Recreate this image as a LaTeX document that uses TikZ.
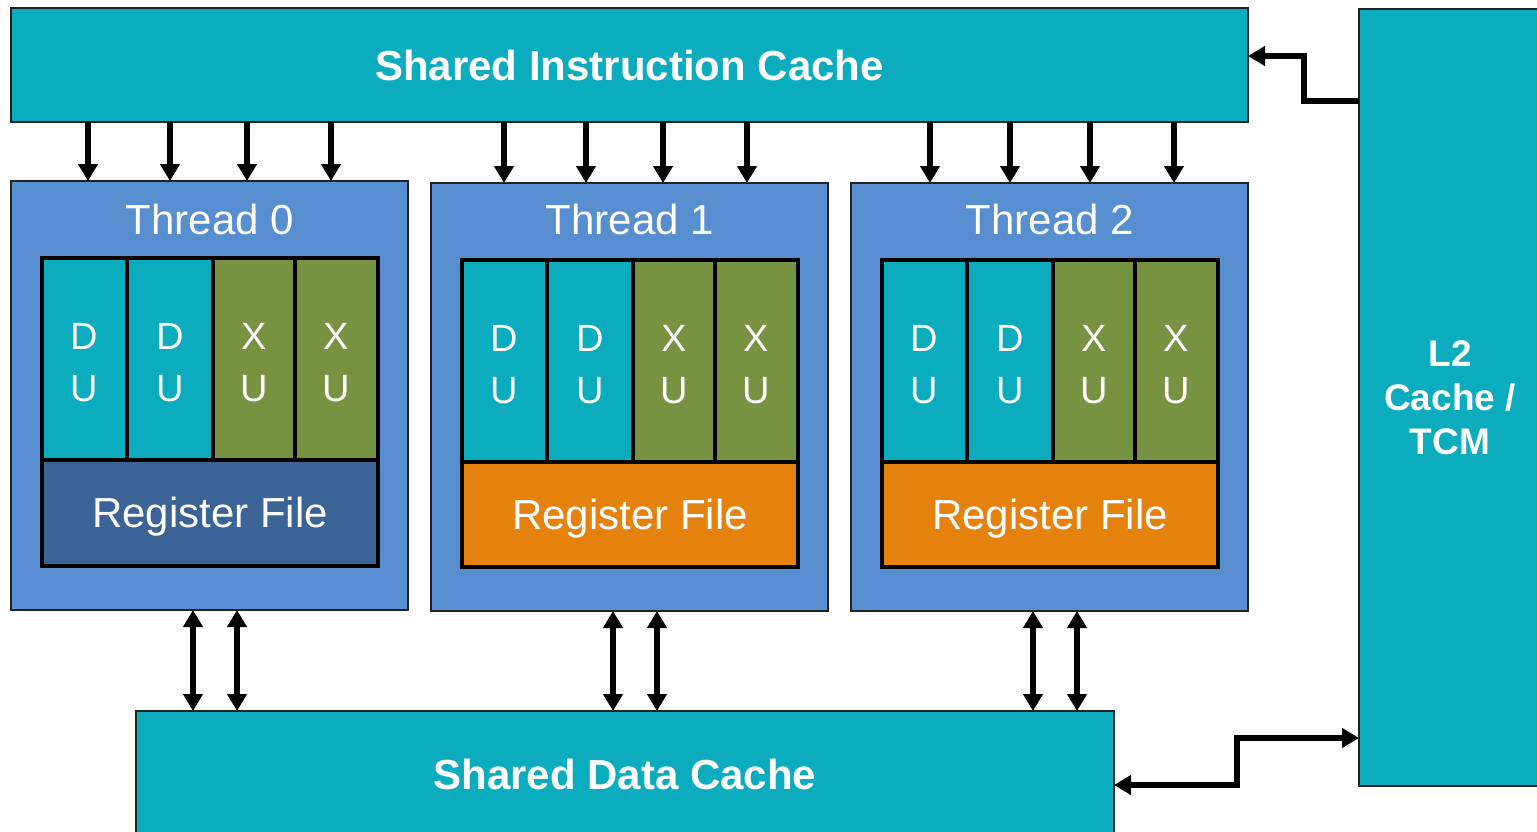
\documentclass[tikz,border=0pt]{standalone}
\usepackage{fontspec}
\setmainfont{Liberation Sans}
\usetikzlibrary{arrows.meta}
\definecolor{cteal}{HTML}{0AACBD}
\definecolor{cblue}{HTML}{578ED0}
\definecolor{colive}{HTML}{779341}
\definecolor{corange}{HTML}{E5820E}
\definecolor{cnavy}{HTML}{3B6395}
\definecolor{cedge}{HTML}{222222}
\begin{document}
\begin{tikzpicture}[x=1pt,y=-1pt,
  cachebox/.style={draw=cedge, line width=1.5pt, fill=cteal, inner sep=0pt, outer sep=0pt, anchor=north west, text=white, font=\bfseries\fontsize{42}{50}\selectfont},
  threadbox/.style={draw=cedge, line width=1.5pt, fill=cblue, inner sep=0pt, outer sep=0pt, anchor=north west, minimum width=397pt},
  titletext/.style={text=white, font=\fontsize{42}{50}\selectfont, inner sep=0pt},
  unitbox/.style={draw=black, line width=4pt, inner sep=0pt, outer sep=0pt, anchor=north west, minimum height=202pt},
  unittext/.style={text=white, align=center, inner sep=0pt, font=\fontsize{38}{52}\selectfont},
  regbox/.style={draw=black, line width=4pt, inner sep=0pt, outer sep=0pt, anchor=north west, minimum width=336pt},
  regtext/.style={text=white, inner sep=0pt, font=\fontsize{42}{50}\selectfont},
  arr/.style={line width=5.5pt, -{Triangle[length=17pt,width=19pt]}},
  darr/.style={line width=5.5pt, {Triangle[length=17pt,width=19pt]}-{Triangle[length=17pt,width=19pt]}}
]
\clip (0,0) rectangle (1537,831);
\fill[white] (0,0) rectangle (1537,831);

% caches
\node[cachebox, minimum width=1237pt, minimum height=114pt] (ic) at (11,8) {Shared Instruction Cache};
\node[cachebox, minimum width=978pt, minimum height=127pt] (dc) at (136,711) {Shared Data Cache};
\node[cachebox, minimum width=182pt, minimum height=777pt, align=center, font=\bfseries\fontsize{37}{44}\selectfont] (l2) at (1359,9) {L2\\Cache /\\TCM};

% threads
\foreach \i/\ox/\ty/\uy/\ry/\rh/\th/\rc in {0/0/181/258/460/106/429/cnavy, 1/420/183/260/462/105/428/corange, 2/840/183/260/462/105/428/corange}{
  \node[threadbox, minimum height=\th pt] (t\i) at (11+\ox,\ty) {};
  \node[titletext] (t\i title) at (210+\ox,219) {Thread \i};
  \node[unitbox, fill=cteal, minimum width=85pt] (t\i c1) at (42+\ox,\uy) {};
  \node[unitbox, fill=cteal, minimum width=86pt] (t\i c2) at (127+\ox,\uy) {};
  \node[unitbox, fill=colive, minimum width=82pt] (t\i c3) at (213+\ox,\uy) {};
  \node[unitbox, fill=colive, minimum width=83pt] (t\i c4) at (295+\ox,\uy) {};
  \node[unittext] (t\i u1) at ([yshift=-4pt]t\i c1.center) {D\\U};
  \node[unittext] (t\i u2) at ([yshift=-4pt]t\i c2.center) {D\\U};
  \node[unittext] (t\i u3) at ([yshift=-4pt]t\i c3.center) {X\\U};
  \node[unittext] (t\i u4) at ([yshift=-4pt]t\i c4.center) {X\\U};
  \node[regbox, fill=\rc, minimum height=\rh pt] (t\i rf) at (42+\ox,\ry) {};
  \node[regtext] (t\i rft) at ([yshift=-4pt]t\i rf.center) {Register File};
}

% instruction fetch arrows
\foreach \x in {88,170,247,331}{\draw[arr] (ic.south -| \x,0) -- (t0.north -| \x,0);}
\foreach \x in {504,586,663,747}{\draw[arr] (ic.south -| \x,0) -- (t1.north -| \x,0);}
\foreach \x in {930,1010,1090,1174}{\draw[arr] (ic.south -| \x,0) -- (t2.north -| \x,0);}

% data arrows
\foreach \x in {193,237}{\draw[darr] (t0.south -| \x,0) -- (dc.north -| \x,0);}
\foreach \x in {613,657}{\draw[darr] (t1.south -| \x,0) -- (dc.north -| \x,0);}
\foreach \x in {1033,1077}{\draw[darr] (t2.south -| \x,0) -- (dc.north -| \x,0);}

% L2 connections
\draw[arr] (l2.west |- 0,101) -- (1304,101) -- (1304,56) -- (ic.east |- 0,56);
\draw[darr] (dc.east |- 0,785) -- (1237,785) -- (1237,738) -- (l2.west |- 0,738);
\end{tikzpicture}
\end{document}
